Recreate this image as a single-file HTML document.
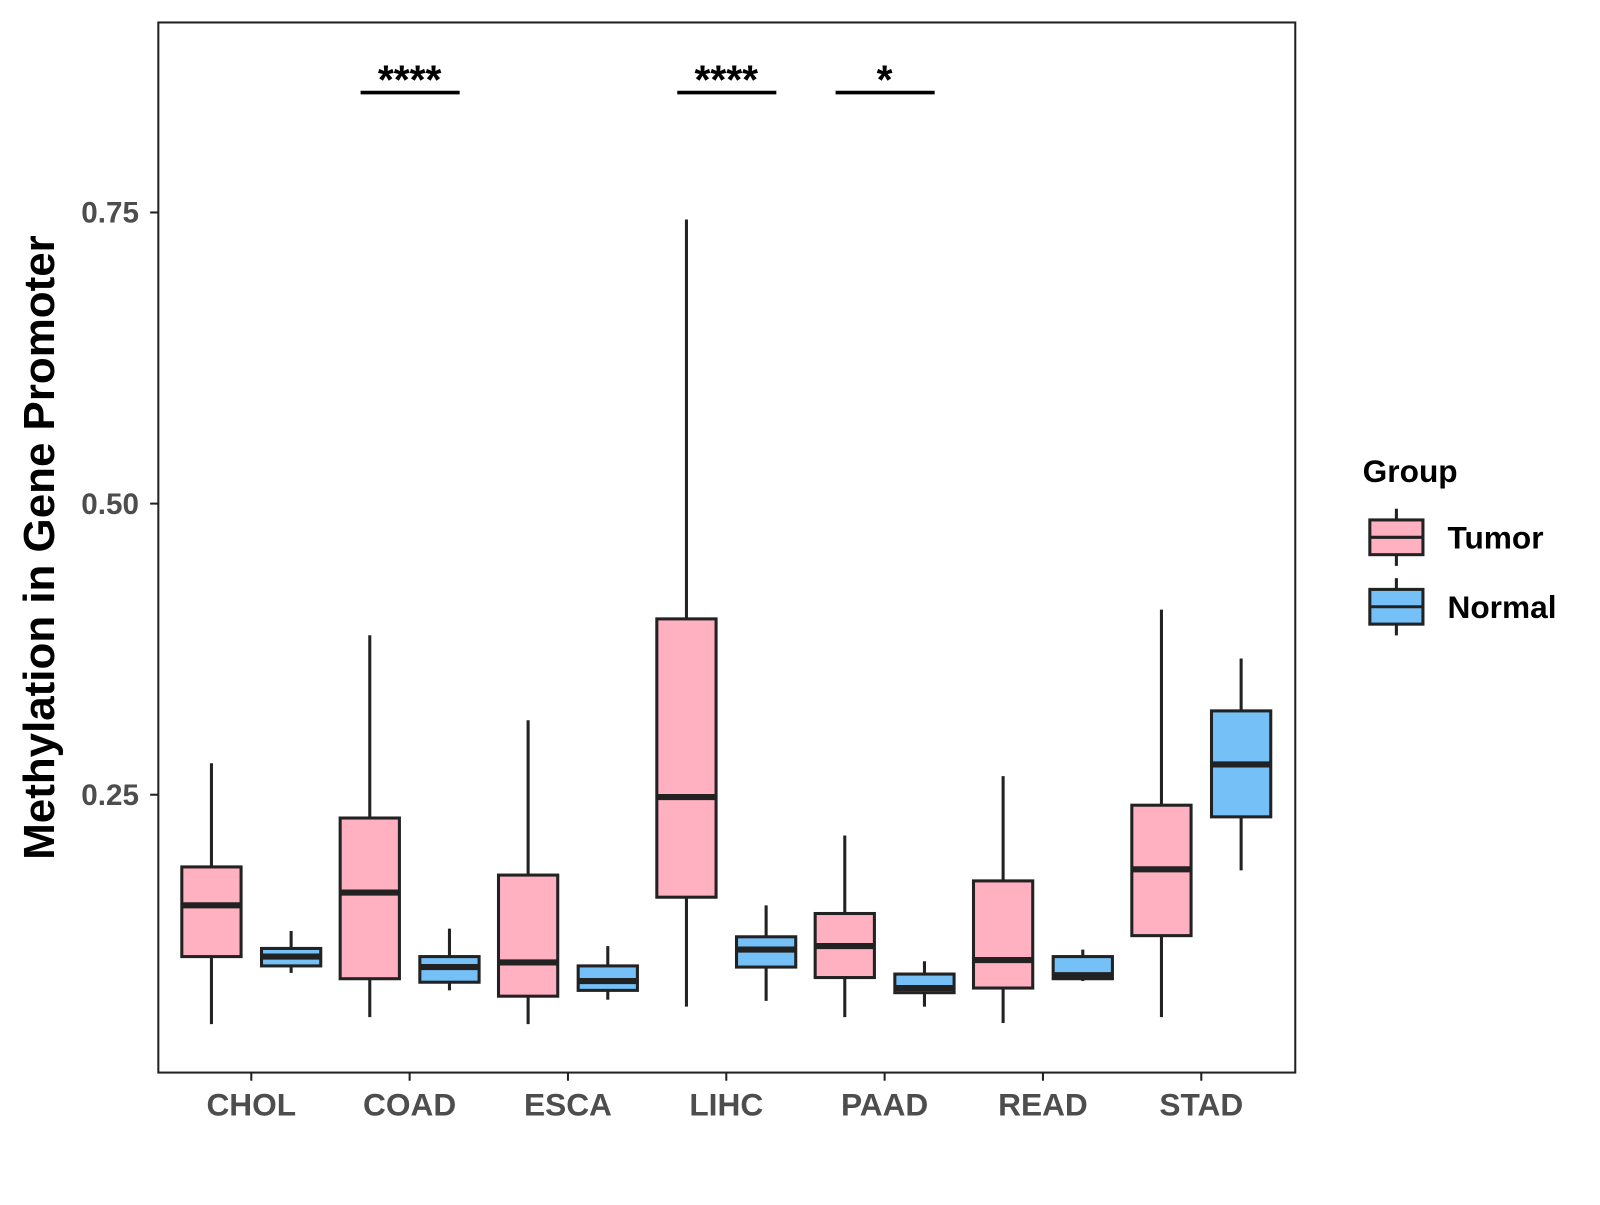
<!DOCTYPE html>
<html><head><meta charset="utf-8"><style>
body{margin:0;background:#fff;}
svg{font-family:"Liberation Sans",Arial,sans-serif;}
</style></head><body>
<svg id="chart" width="1600" height="1200" viewBox="0 0 1600 1200">
<rect x="0" y="0" width="1600" height="1200" fill="#fff"/>
<g transform="scale(1.0215)">
<g id="plot"></g>
<rect x="155" y="22" width="1113" height="1028" fill="none" stroke="#222" stroke-width="2"/>
<text x="53" y="536" transform="rotate(-90 53 536)" text-anchor="middle" font-size="43" font-weight="bold" fill="#000">Methylation in Gene Promoter</text>
<g>
<text x="1334" y="472" font-size="31" font-weight="bold">Group</text>
<g>
<line x1="1367" y1="498" x2="1367" y2="554" stroke="#222" stroke-width="3"/>
<rect x="1341" y="509" width="52" height="34" fill="#FFB0C1" stroke="#222" stroke-width="3"/>
<line x1="1341" y1="526" x2="1393" y2="526" stroke="#222" stroke-width="3"/>
<text x="1417" y="537" font-size="31" font-weight="bold">Tumor</text>
</g>
<g>
<line x1="1367" y1="566" x2="1367" y2="622" stroke="#222" stroke-width="3"/>
<rect x="1341" y="577" width="52" height="34" fill="#74C0F7" stroke="#222" stroke-width="3"/>
<line x1="1341" y1="594" x2="1393" y2="594" stroke="#222" stroke-width="3"/>
<text x="1417" y="605" font-size="31" font-weight="bold">Normal</text>
</g>
</g>
</g>
</svg>
<script>
const categories=["CHOL","COAD","ESCA","LIHC","PAAD","READ","STAD"];
const tumorLow=[0.053,0.059,0.053,0.068,0.059,0.054,0.059];
const tumorQ1=[0.111,0.092,0.077,0.162,0.093,0.084,0.129];
const tumorMed=[0.155,0.166,0.106,0.248,0.120,0.108,0.186];
const tumorQ3=[0.188,0.230,0.181,0.401,0.148,0.176,0.241];
const tumorHigh=[0.277,0.387,0.314,0.744,0.215,0.266,0.409];
const normalLow=[0.097,0.082,0.074,0.073,0.068,0.090,0.185];
const normalQ1=[0.103,0.089,0.082,0.102,0.080,0.092,0.231];
const normalMed=[0.111,0.102,0.090,0.117,0.084,0.095,0.276];
const normalQ3=[0.118,0.111,0.103,0.128,0.096,0.111,0.322];
const normalHigh=[0.133,0.135,0.120,0.155,0.107,0.117,0.367];
const yTicks=[0.25,0.50,0.75];
const yTickLabels=["0.25","0.50","0.75"];
const sigCategories=["COAD","LIHC","PAAD"];
const sigLabels=["****","****","*"];
const sigLevel=0.853;

const NS="http://www.w3.org/2000/svg";
const g=document.getElementById('plot');
function y(v){return 1063-v*1140;}
function x(i){return 246+i*155;}
function mk(tag,attrs,parent){const e=document.createElementNS(NS,tag);for(const k in attrs)e.setAttribute(k,attrs[k]);(parent||g).appendChild(e);return e;}
yTicks.forEach((t,i)=>{
  const l=mk('line',{x1:147,x2:155,y1:y(t),y2:y(t),stroke:'#222','stroke-width':2});
  
  
  const tx=mk('text',{x:136,y:y(t)+10,'text-anchor':'end','font-size':29,'font-weight':'bold',fill:'#4d4d4d'});
  tx.textContent=yTickLabels[i];
  
  
});
function box(cx,lo,q1,md,q3,hi,fill,name){
  const bg=mk('g',{});
  
  
  mk('line',{x1:cx,x2:cx,y1:y(hi),y2:y(lo),stroke:'#222','stroke-width':3},bg);
  mk('rect',{x:cx-29,y:y(q3),width:58,height:y(q1)-y(q3),fill:fill,stroke:'#222','stroke-width':3},bg);
  mk('line',{x1:cx-29,x2:cx+29,y1:y(md),y2:y(md),stroke:'#222','stroke-width':6},bg);
}
categories.forEach((c,i)=>{
  box(x(i)-39,tumorLow[i],tumorQ1[i],tumorMed[i],tumorQ3[i],tumorHigh[i],'#FFB0C1','box-tumor-'+c.toLowerCase());
  box(x(i)+39,normalLow[i],normalQ1[i],normalMed[i],normalQ3[i],normalHigh[i],'#74C0F7','box-normal-'+c.toLowerCase());
  const t=mk('line',{x1:x(i),x2:x(i),y1:1050,y2:1058,stroke:'#222','stroke-width':2});
  
  
  const tx=mk('text',{x:x(i),y:1092,'text-anchor':'middle','font-size':31,'font-weight':'bold',fill:'#4d4d4d'});
  tx.textContent=c;
  
  
});
sigCategories.forEach((c,k)=>{
  const i=categories.indexOf(c);
  const l=mk('line',{x1:x(i)-48,x2:x(i)+49,y1:y(sigLevel),y2:y(sigLevel),stroke:'#000','stroke-width':3.5});
  
  
  const tx=mk('text',{x:x(i),y:y(sigLevel)+1,'text-anchor':'middle','font-size':40,'font-weight':'bold',fill:'#000'});
  tx.textContent=sigLabels[k];
  
  
});
</script>
</body></html>
